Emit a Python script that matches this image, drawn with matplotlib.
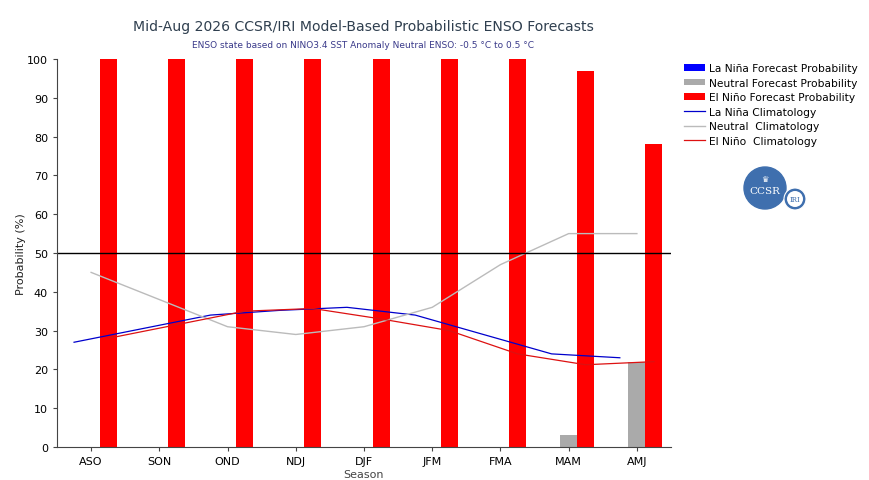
import matplotlib
matplotlib.use("Agg")
import matplotlib.pyplot as plt
import numpy as np
from matplotlib.patches import Circle, Patch
from matplotlib.lines import Line2D

seasons = ["ASO", "SON", "OND", "NDJ", "DJF", "JFM", "FMA", "MAM", "AMJ"]
lanina_fc = [0, 0, 0, 0, 0, 0, 0, 0, 0]
neutral_fc = [0, 0, 0, 0, 0, 0, 0, 3, 22]
elnino_fc = [100, 100, 100, 100, 100, 100, 100, 97, 78]
lanina_clim = [27, 30.5, 34, 35.2, 36, 34, 29, 24, 23]
neutral_clim = [45, 38, 31, 29, 31, 36, 47, 55, 55]
elnino_clim = [28, 31.5, 35, 35.7, 33, 30, 24, 21.2, 22]

fig = plt.figure(figsize=(8.7, 4.81), dpi=100)
ax = fig.add_axes([57/870, 1 - 448/481, (671-57)/870, (448-60)/481])

x = np.arange(len(seasons))
w = 0.25
ax.bar(x - w, lanina_fc, width=w, color="#0000ff")
ax.bar(x, neutral_fc, width=w, color="#aaaaaa")
ax.bar(x + w, elnino_fc, width=w, color="#ff0000")
ax.plot(x - w, lanina_clim, color="#0000cc", lw=0.9)
ax.plot(x, neutral_clim, color="#bbbbbb", lw=1.0)
ax.plot(x + w, elnino_clim, color="#dd1111", lw=0.9)
ax.axhline(50, color="black", lw=1.0)

ax.set_xlim(-0.5, 8.5)
ax.set_ylim(0, 100)
ax.set_yticks(np.arange(0, 101, 10))
ax.set_xticks(x)
ax.set_xticklabels(seasons)
ax.tick_params(labelsize=8, length=3, color="#444444")
for s in ["top", "right"]:
    ax.spines[s].set_visible(False)
for s in ["left", "bottom"]:
    ax.spines[s].set_color("#444444")
ax.set_ylabel("Probability (%)", fontsize=8, color="#222222", labelpad=1)
ax.set_xlabel("Season", fontsize=8, color="#444444", labelpad=2)

fig.text((133+594)/2/870, 1 - 27/481, "Mid-Aug 2026 CCSR/IRI Model-Based Probabilistic ENSO Forecasts",
         ha="center", va="center", fontsize=10.1, color="#2f3f4f")
fig.text((193+534)/2/870, 1 - 46/481, "ENSO state based on NINO3.4 SST Anomaly Neutral ENSO: -0.5 \u00b0C to 0.5 \u00b0C",
         ha="center", va="center", fontsize=6.5, color="#3a3a8a")

handles = [
    Patch(facecolor="#0000ff", label="La Niña Forecast Probability"),
    Patch(facecolor="#aaaaaa", label="Neutral Forecast Probability"),
    Patch(facecolor="#ff0000", label="El Niño Forecast Probability"),
    Line2D([], [], color="#0000cc", lw=0.9, label="La Niña Climatology"),
    Line2D([], [], color="#bbbbbb", lw=1.0, label="Neutral  Climatology"),
    Line2D([], [], color="#dd1111", lw=0.9, label="El Niño  Climatology"),
]
fig.legend(handles=handles, loc="upper left", bbox_to_anchor=(679/870, 1 - 59/481),
           frameon=False, fontsize=7.7, handlelength=1.9, handleheight=0.55,
           labelspacing=0.42, handletextpad=0.45, borderpad=0)

# logo
lax = fig.add_axes([735/870, 1 - 215/481, 80/870, 50/481])
lax.set_xlim(0, 80); lax.set_ylim(0, 50)
lax.set_aspect("equal")
lax.axis("off")
lax.add_patch(Circle((30, 26), 21, color="#3f6fae"))
lax.text(30, 23, "CCSR", ha="center", va="center", fontsize=7.5, color="white", family="DejaVu Serif")
lax.text(30, 35, "\u265b", ha="center", va="center", fontsize=6, color="white")
lax.add_patch(Circle((60, 15), 11, facecolor="#3f6fae", edgecolor="white", lw=0.8))
lax.add_patch(Circle((60, 15), 8, facecolor="white", edgecolor="none"))
lax.text(60, 15, "IRI", ha="center", va="center", fontsize=5, color="#3f6fae", family="DejaVu Serif")

fig.savefig("out.png", dpi=100, facecolor="white")
